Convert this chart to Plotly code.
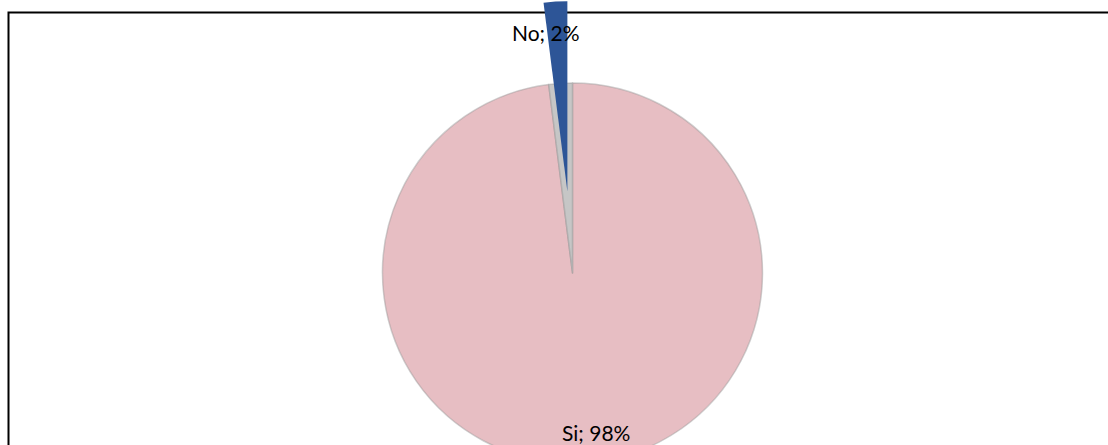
import math
import plotly.graph_objects as go

# Survey answers and their shares (percent)
labels = ["Si", "No"]
values = [98, 2]
slice_colors = ["#E7BEC3", "#2D5597"]
gap_color = "#C6C6C6"

# Canvas and pie geometry (pixels)
W, H = 1108, 470
R = 190
CX, CY = 572.5, 273
PULL_PX = 82  # how far the "No" slice is pulled out of the pie


def domain_for(cx, cy, r):
    """Pie domain (paper fractions) whose circle has centre (cx, cy) and radius r in pixels."""
    return dict(
        x=[(cx - r) / W, (cx + r) / W],
        y=[(H - (cy + r)) / H, (H - (cy - r)) / H],
    )


total = sum(values)
# slices run clockwise from 12 o'clock; mid angle of the "No" slice
mid = math.radians((values[0] + values[1] / 2) / total * 360)
bx = CX + PULL_PX * math.sin(mid)
by = CY - PULL_PX * math.cos(mid)

fig = go.Figure()

# Main pie: the "Si" share, with the empty seat of the pulled slice left in grey
fig.add_trace(go.Pie(
    labels=labels, values=values, sort=False, direction="clockwise", rotation=0,
    marker=dict(colors=[slice_colors[0], gap_color],
                line=dict(color="rgba(150,150,150,0.45)", width=1.5)),
    textinfo="none", hoverinfo="label+percent", showlegend=False,
    domain=domain_for(CX, CY, R),
))

# Exploded "No" slice, drawn on its own offset pie
fig.add_trace(go.Pie(
    labels=labels, values=values, sort=False, direction="clockwise", rotation=0,
    marker=dict(colors=["rgba(0,0,0,0)", slice_colors[1]], line=dict(width=0)),
    textinfo="none", hoverinfo="skip", showlegend=False,
    domain=domain_for(bx, by, R),
))

# Data labels "<category>; <share>%"
label_pos = {"No": (546, 32.5), "Si": (596, 432.5)}
for lab, val in zip(labels, values):
    px, py = label_pos[lab]
    fig.add_annotation(
        x=px / W, y=(H - py) / H, xref="paper", yref="paper",
        text=f"{lab}; {round(val / total * 100)}%", showarrow=False,
        xanchor="center", yanchor="middle",
        font=dict(family="Lato, Carlito, Arial", size=21, color="#000000"),
    )

# Chart frame
fig.add_shape(
    type="rect", xref="paper", yref="paper", layer="below",
    x0=8.5 / W, x1=1.02, y0=-0.05, y1=(H - 12.5) / H,
    line=dict(color="#000000", width=2), fillcolor="rgba(0,0,0,0)",
)

fig.update_layout(
    width=W, height=H,
    margin=dict(l=0, r=0, t=0, b=0),
    paper_bgcolor="#FFFFFF", plot_bgcolor="#FFFFFF",
    showlegend=False,
)

fig.write_html("out.html")
